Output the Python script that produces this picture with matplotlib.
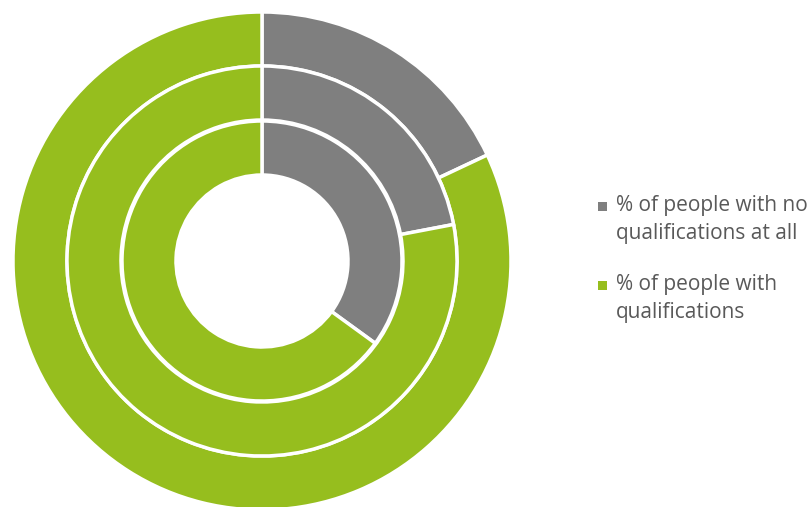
import matplotlib
matplotlib.use("Agg")
import matplotlib.pyplot as plt
from matplotlib.patches import Rectangle

categories = ["% of people with no\nqualifications at all", "% of people with\nqualifications"]
outer_ring = [18, 82]
middle_ring = [22, 78]
inner_ring = [35, 65]
colors = ["#7F7F7F", "#96BE1E"]

W, H = 812, 507
fig = plt.figure(figsize=(W / 100, H / 100), dpi=100)
cx, cy, R = 262, 261, 249
ax = fig.add_axes([(cx - R) / W, (H - cy - R) / H, 2 * R / W, 2 * R / H])

width = 54 / R
radii = [1.0, 195 / R, 140 / R]
for vals, r in zip([outer_ring, middle_ring, inner_ring], radii):
    ax.pie(vals, radius=r, colors=colors, startangle=90, counterclock=False,
           wedgeprops=dict(width=width, edgecolor="white", linewidth=2.5))
ax.set_xlim(-1, 1)
ax.set_ylim(-1, 1)
ax.set_aspect("equal")
ax.axis("off")

# legend drawn manually: marker aligned with the first text line
entry_top = [195, 274]
for label, color, top in zip(categories, colors, entry_top):
    fig.text(616 / W, 1 - top / H, label, ha="left", va="top",
             family="Open Sans", fontsize=15, color="#595959", linespacing=1.45)
    mid = top + 11
    fig.patches.append(Rectangle((598 / W, 1 - (mid + 4.5) / H), 9 / W, 9 / H,
                                 transform=fig.transFigure, facecolor=color,
                                 edgecolor="none"))
fig.savefig("out.png", dpi=100)
